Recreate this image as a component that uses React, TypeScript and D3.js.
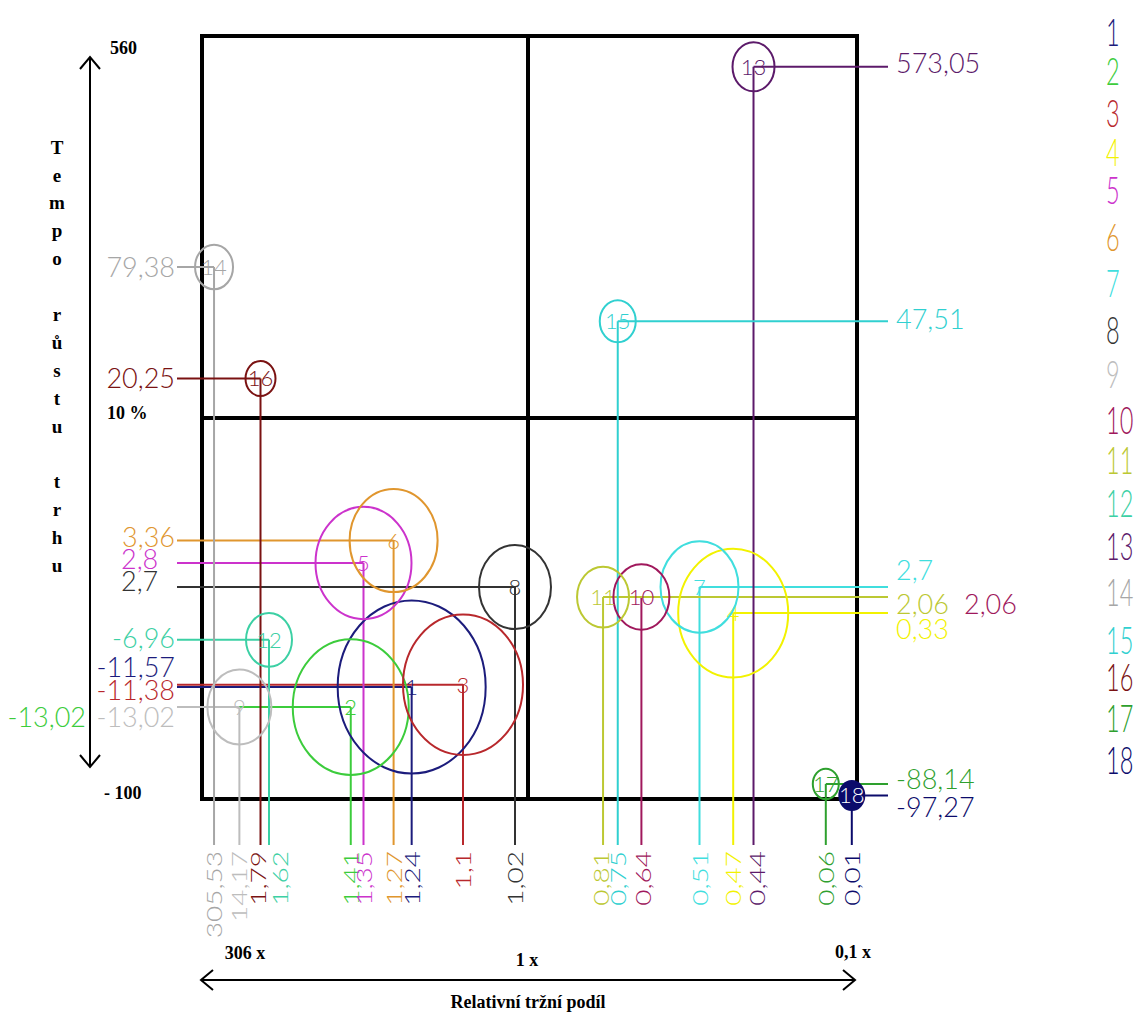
import React from "react";
import * as d3 from "d3";

// ---- data ----
const ids = ["1", "2", "3", "4", "5", "6", "7", "8", "9", "10", "11", "12", "13", "14", "15", "16", "17", "18"];
const share = [1.24, 1.41, 1.1, 0.47, 1.35, 1.27, 0.51, 1.02, 14.17, 0.64, 0.81, 1.62, 0.44, 305.53, 0.75, 1.79, 0.06, 0.01];
const growth = [-11.57, -13.02, -11.38, 0.33, 2.8, 3.36, 2.7, 2.7, -13.02, 2.06, 2.06, -6.96, 573.05, 79.38, 47.51, 20.25, -88.14, -97.27];
const bubble = [74, 58, 60, 55, 48, 44, 39, 36, 32, 28, 26, 23, 21, 19, 18, 15, 13, 12];
const side = ["L", "L", "L", "R", "L", "L", "R", "L", "L", "R", "R", "L", "R", "L", "R", "L", "R", "R"];
const shareText = ["1,24", "1,41", "1,1", "0,47", "1,35", "1,27", "0,51", "1,02", "14,17", "0,64", "0,81", "1,62", "0,44", "305,53", "0,75", "1,79", "0,06", "0,01"];
const growthText = ["-11,57", "-13,02", "-11,38", "0,33", "2,8", "3,36", "2,7", "2,7", "-13,02", "2,06", "2,06", "-6,96", "573,05", "79,38", "47,51", "20,25", "-88,14", "-97,27"];
const colors = ["#1c1c7c", "#3ccc3c", "#b8282c", "#f2f200", "#cc33cc", "#e0962e", "#40dede", "#333333", "#bdbdbd", "#a0185c", "#bcc832", "#3cd0a4", "#5c1a6a", "#a6a6a6", "#30d0d0", "#7a1212", "#2ea02e", "#0b0b6b"];

// schematic (non-uniform) axis calibration anchors
const xAnchorValues = [0, 0.1, 0.45, 0.5, 0.6, 0.8, 1, 1.1, 1.25, 1.3, 1.4, 1.6, 1.8, 15, 306];
const xAnchorPx = [857, 805, 752, 705, 650, 607, 528, 463, 408, 372, 355, 270, 260, 238, 214];
const yAnchorValues = [-100, -85, -13, -11.5, -7, 0, 2, 2.7, 2.8, 3.5, 10, 20, 50, 80, 575, 600];
const yAnchorPx = [799, 780, 707, 686, 640, 616, 598, 587, 563, 535, 418, 379, 316, 266, 66, 36];

// label layout tweaks
const labelDy = [-20, 10, 6, 16, -4, -3, -17, -6, 10, 7, 7, -2, -4, 0, -2, 0, -5, 12];
const bottomDx = [0, 0, 0, 0, 0, 0, 0, 0, 0, 2, -2, 11, 3, 0, 0, -3, 0, 0];

const legendY = [32, 71, 113, 152, 190, 237, 283, 330, 374, 420, 460, 503, 546, 592, 640, 677, 718, 760];

const yTitle = ["T", "e", "m", "p", "o", " ", "r", "ů", "s", "t", "u", " ", "t", "r", "h", "u"];

const NUM_FONT = "Lato, 'DejaVu Sans', sans-serif";
const SERIF = "'Liberation Serif', 'Times New Roman', serif";

export default function App() {
  const W = 1147, H = 1014;
  const x = d3.scaleLinear().domain(xAnchorValues).range(xAnchorPx);
  const y = d3.scaleLinear().domain(yAnchorValues).range(yAnchorPx);
  const r = d3.scaleLinear().domain([0, 100]).range([0, 100]);
  const aspect = 1.17;

  const frameL = 202, frameR = x(0), frameT = y(600), frameB = y(-100);
  const midX = x(1), midY = y(10);
  const leftLineX = 177, rightLineX = 888, bottomLineY = 845;

  const order = d3.range(ids.length);

  return (
    <svg width={W} height={H} style={{ position: "absolute", left: 0, top: 0, background: "#fff" }}>
      <rect x={0} y={0} width={W} height={H} fill="#fff" />
      {/* frame */}
      <g stroke="#000" strokeWidth={4} fill="none">
        <rect x={frameL} y={frameT} width={frameR - frameL} height={frameB - frameT} />
        <line x1={midX} x2={midX} y1={frameT} y2={frameB} />
        <line x1={frameL} x2={frameR} y1={midY} y2={midY} />
      </g>

      {/* axis arrows */}
      <g stroke="#000" strokeWidth={2} fill="none">
        <line x1={90} x2={90} y1={57} y2={767} />
        <polyline points="80,69 90,57 100,69" />
        <polyline points="80,755 90,767 100,755" />
        <line x1={201} x2={855} y1={980} y2={980} />
        <polyline points="213,970 201,980 213,990" />
        <polyline points="843,970 855,980 843,990" />
      </g>
      <g fontFamily={SERIF} fontWeight="bold" fontSize={18} fill="#000">
        <text x={110} y={54}>560</text>
        <text x={107} y={419}>10 %</text>
        <text x={104} y={799}>- 100</text>
        <text x={245} y={959} textAnchor="middle">306 x</text>
        <text x={527} y={966} textAnchor="middle">1 x</text>
        <text x={853} y={958} textAnchor="middle">0,1 x</text>
        <text x={528} y={1008} textAnchor="middle">Relativní tržní podíl</text>
        {yTitle.map((c, i) => (
          <text key={i} x={57} y={147 + i * 27.9} dy="0.35em" textAnchor="middle" fontSize={19}>{c}</text>
        ))}
      </g>

      {/* connector lines */}
      <g strokeWidth={2} fill="none">
        {order.map((i) => {
          const cx = x(share[i]), cy = y(growth[i]);
          return (
            <g key={i} stroke={colors[i]}>
              <line x1={cx} x2={cx} y1={cy} y2={bottomLineY} />
              {side[i] === "L" ? (
                <line x1={leftLineX} x2={cx} y1={cy} y2={cy} />
              ) : (
                <line x1={cx} x2={rightLineX} y1={cy} y2={cy} />
              )}
            </g>
          );
        })}
      </g>

      {/* bubbles */}
      <g fill="none" strokeWidth={2}>
        {order.map((i) => {
          const cx = x(share[i]), cy = y(growth[i]);
          const last = i === 17;
          return (
            <g key={i}>
              <ellipse cx={cx} cy={cy} rx={r(bubble[i])} ry={r(bubble[i]) * aspect}
                stroke={colors[i]} fill={last ? colors[i] : "none"} strokeWidth={last ? 3 : 2} />
              <text x={cx} y={cy} dy="0.36em" textAnchor="middle" fontFamily={NUM_FONT}
                fontWeight={300} fontSize={22} fill={last ? "#fff" : colors[i]}>{ids[i]}</text>
            </g>
          );
        })}
      </g>

      {/* value labels */}
      <g fontFamily={NUM_FONT} fontWeight={300} fontSize={27}>
        {order.map((i) => {
          const cy = y(growth[i]);
          let lx = 0, anchor = "end";
          if (side[i] === "L") {
            if (i === 1) { lx = 86; anchor = "end"; }
            else if (i === 4 || i === 7) { lx = 121; anchor = "start"; }
            else { lx = 175; anchor = "end"; }
          } else {
            anchor = "start";
            lx = i === 9 ? 964 : 896;
          }
          return (
            <text key={i} x={lx} y={cy + labelDy[i]} dy="0.36em" textAnchor={anchor} fill={colors[i]}>
              {growthText[i]}
            </text>
          );
        })}
      </g>
      <g fontFamily={NUM_FONT} fontWeight={300} fontSize={28}>
        {order.map((i) => {
          const cx = x(share[i]) + bottomDx[i];
          return (
            <text key={"b" + i} transform={`translate(${cx},${851}) rotate(-90) scale(1,0.8)`} dy="0.36em"
              textAnchor="end" fill={colors[i]}>
              {shareText[i]}
            </text>
          );
        })}
      </g>

      {/* legend */}
      <g fontFamily={NUM_FONT} fontWeight={300} fontSize={38}>
        {order.map((i) => (
          <text key={"l" + i} transform={`translate(1106,${legendY[i]}) scale(0.62,1)`} dy="0.36em" fill={colors[i]}>
            {ids[i]}
          </text>
        ))}
      </g>
    </svg>
  );
}
